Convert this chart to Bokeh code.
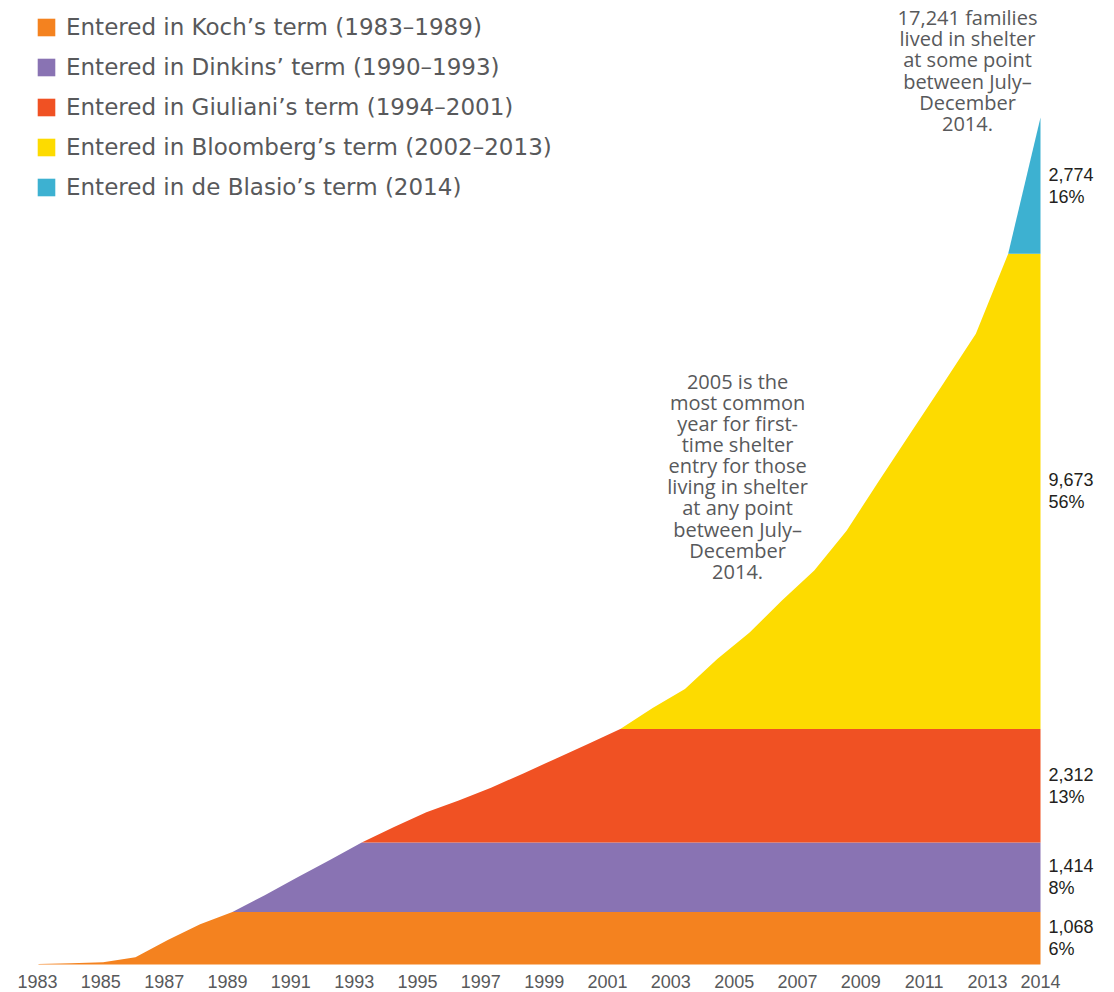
from bokeh.plotting import figure
from bokeh.models import Range1d, Legend, LegendItem
from bokeh.core.properties import value
from bokeh.embed import file_html
from bokeh.resources import INLINE

# ---------------- data ----------------
years = list(range(1983, 2015))
cumulative_families = [
    10, 25, 45, 150, 500, 820, 1068,            # 1983-1989
    1410, 1770, 2120, 2482,                     # 1990-1993
    2800, 3100, 3340, 3600, 3890, 4190, 4490, 4794,   # 1994-2001
    5220, 5610, 6220, 6760, 7410, 8020, 8830, 9840,
    10840, 11830, 12840, 14467,                 # 2002-2013
    17241,                                      # 2014
]
term_labels = [
    "Entered in Koch’s term (1983–1989)",
    "Entered in Dinkins’ term (1990–1993)",
    "Entered in Giuliani’s term (1994–2001)",
    "Entered in Bloomberg’s term (2002–2013)",
    "Entered in de Blasio’s term (2014)",
]
term_band_start = [1983, 1989, 1993, 2001, 2013]
term_totals = [1068, 1414, 2312, 9673, 2774]
term_colors = ["#F4821F", "#8973B3", "#F05123", "#FDDB00", "#3DB1D1"]
tick_years = list(range(1983, 2014, 2))
final_year = 2014
note_mid = ("2005 is the\nmost common\nyear for first-\ntime shelter\nentry for those\n"
            "living in shelter\nat any point\nbetween July–\nDecember\n2014.")
note_top = "17,241 families\nlived in shelter\nat some point\nbetween July–\nDecember\n2014."
note_year = 2005

NOTE_FONT = value("Open Sans")
NUM_FONT = value("Liberation Sans")
LEGEND_FONT = "DejaVu Sans"
GREY = "#58595b"

W, H = 1106, 992
px_per_year = 1002 / 31
x0 = 1983 - 38 / px_per_year
px_per_unit = 847 / 17241
y1 = 964 / px_per_unit
y0 = y1 - H / px_per_unit

p = figure(width=W, height=H, output_backend="svg", toolbar_location=None,
           x_range=Range1d(x0, x0 + W / px_per_year), y_range=Range1d(y0, y1),
           x_axis_location=None, y_axis_location=None, min_border=0,
           outline_line_color=None, background_fill_color="white",
           border_fill_color="white")
p.grid.visible = False

# tick label scale (labels are slightly compressed in the original)
tick_px = 950 / 30
tx0 = 1983 - 37 / tick_px
p.extra_x_ranges = {"ticks": Range1d(tx0, tx0 + W / tick_px)}

grand = sum(term_totals)
base = 0
items = []
mids = []
for lab, start, tot, col in zip(term_labels, term_band_start, term_totals, term_colors):
    k0 = years.index(start)
    xs = years[k0:]
    top = base + tot
    ys = [min(max(c, base), top) for c in cumulative_families[k0:]]
    r = p.varea(x=xs, y1=[base] * len(xs), y2=ys, fill_color=col)
    items.append(LegendItem(label=lab, renderers=[r]))
    mids.append((base + top) / 2)
    base = top

# right-hand value labels
p.text(x=[final_year] * len(mids), y=mids,
       text=[f"{t:,}\n{round(100 * t / grand)}%" for t in term_totals],
       x_offset=8, text_align="left", text_baseline="middle",
       text_font=NUM_FONT, text_font_size="18px", text_color="#231f20",
       text_line_height=1.1)

# x tick labels
p.text(x=tick_years, y=[0] * len(tick_years), text=[str(y) for y in tick_years],
       x_range_name="ticks", y_offset=17, text_align="center", text_baseline="middle",
       text_font=NUM_FONT, text_font_size="18px", text_color=GREY)
p.text(x=[final_year], y=[0], text=[str(final_year)], y_offset=17,
       text_align="center", text_baseline="middle",
       text_font=NUM_FONT, text_font_size="18px", text_color=GREY)

# annotations
p.text(x=[note_year], y=[cumulative_families[years.index(note_year)]], text=[note_mid],
       x_offset=-12, y_offset=-156, text_align="center", text_baseline="middle",
       text_font=NOTE_FONT, text_font_size="20px", text_color=GREY, text_line_height=0.78)
p.text(x=[final_year], y=[grand], text=[note_top],
       x_offset=-73, y_offset=-47, text_align="center", text_baseline="middle",
       text_font=NOTE_FONT, text_font_size="20px", text_color=GREY, text_line_height=0.79)

legend = Legend(items=items, location=(35, 791), border_line_color=None,
                background_fill_alpha=0, glyph_width=22, glyph_height=22,
                label_height=28, label_standoff=9, spacing=12, margin=0, padding=0,
                label_text_font=LEGEND_FONT, label_text_font_size="23px",
                label_text_color=GREY)
p.add_layout(legend)

open("out.html", "w").write(file_html(p, INLINE))
